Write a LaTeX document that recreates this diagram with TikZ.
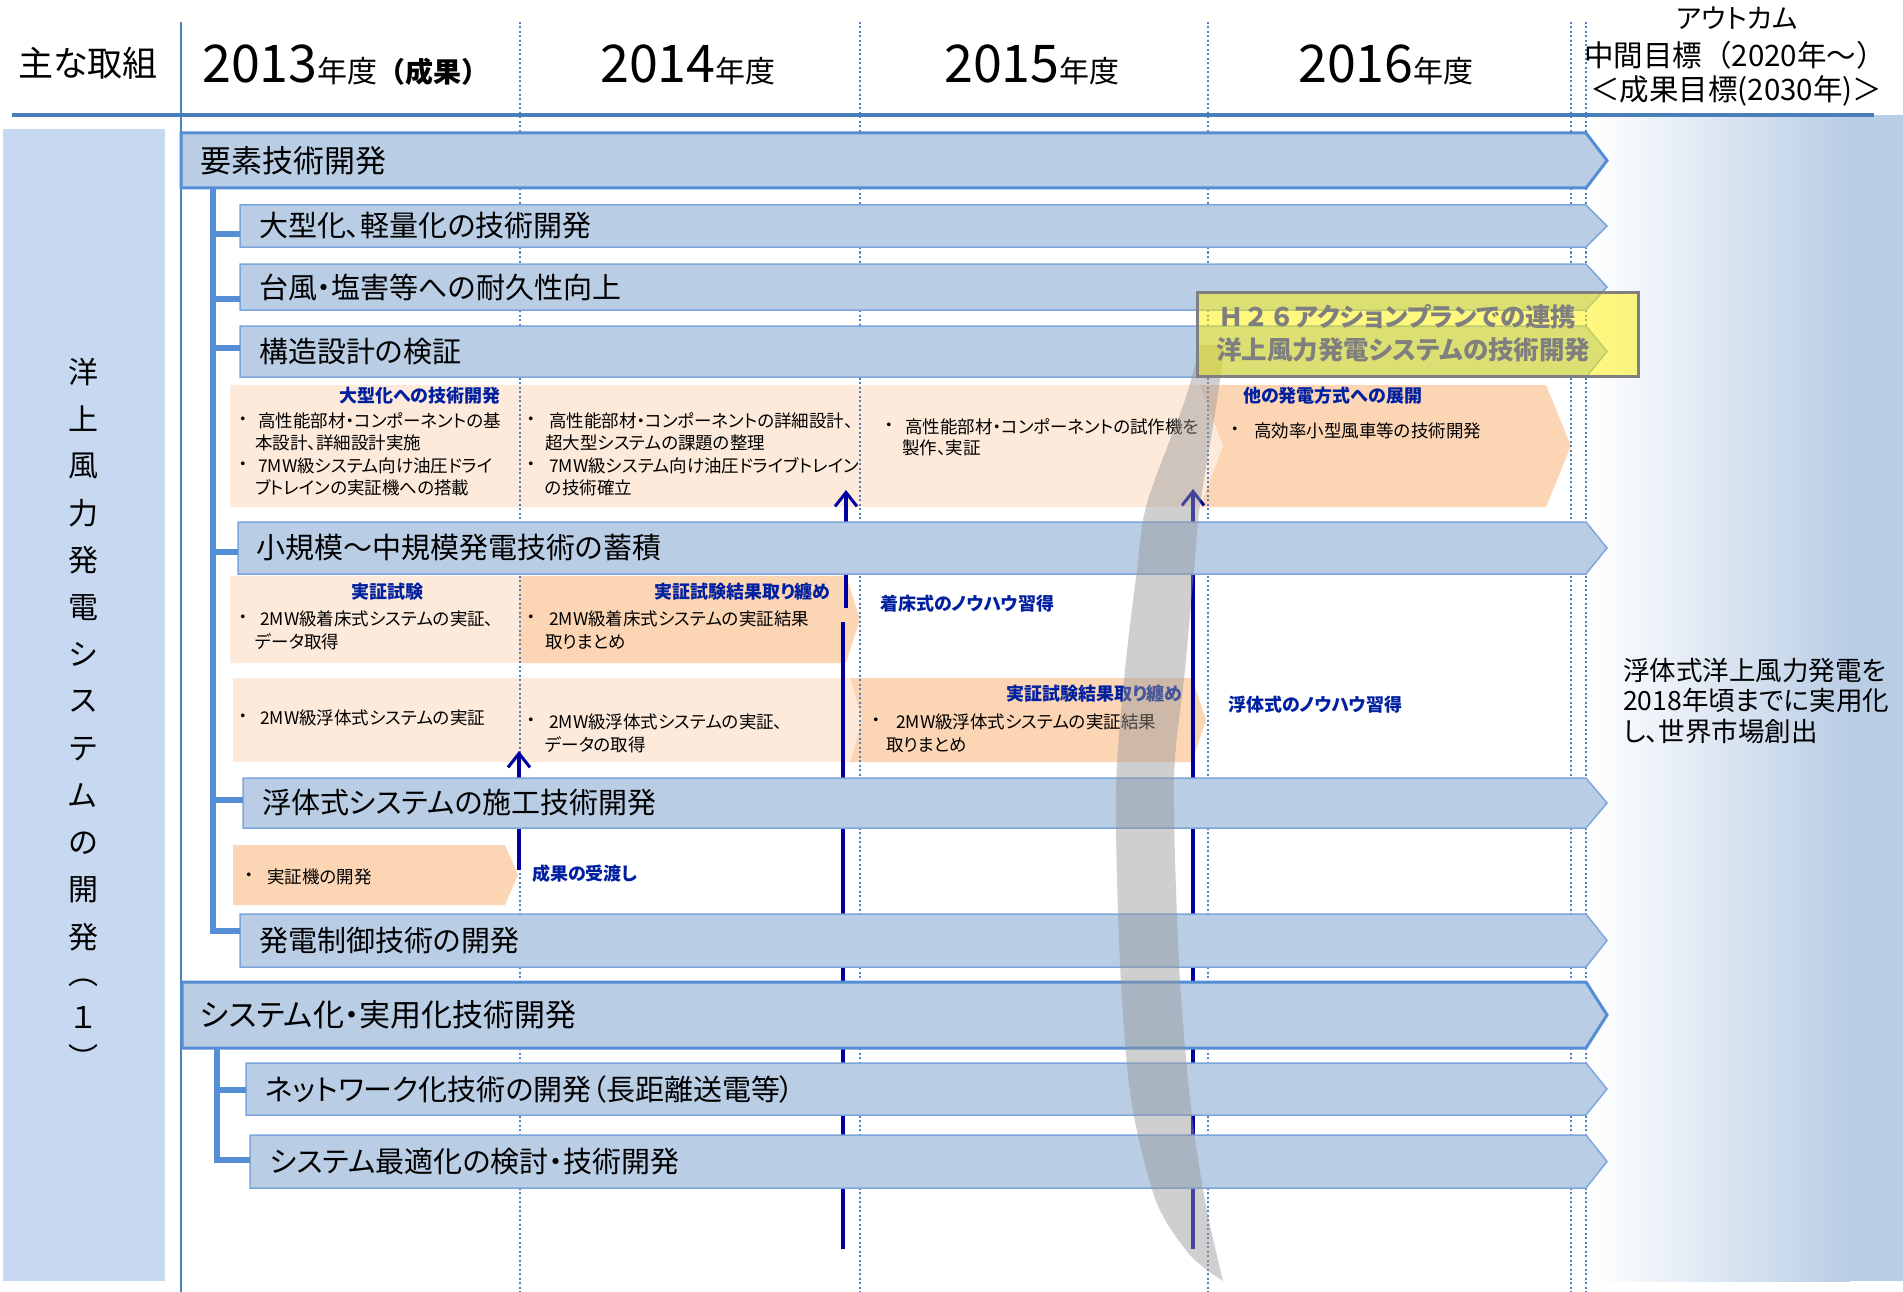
\documentclass[tikz,border=0pt]{standalone}
\usepackage{fontspec}
\setmainfont{Noto Sans CJK JP}[RawFeature=+palt]
\newfontfamily\plainjp{Noto Sans CJK JP}
\usetikzlibrary{arrows.meta}
\definecolor{barblue}{RGB}{185,205,229}
\definecolor{barline}{RGB}{126,166,222}
\definecolor{mainline}{RGB}{85,142,213}
\definecolor{colblue}{RGB}{198,217,241}
\definecolor{hdrline}{RGB}{74,126,187}
\definecolor{dotblue}{RGB}{79,129,189}
\definecolor{navyl}{RGB}{0,0,160}
\definecolor{lblblue}{RGB}{0,32,160}
\definecolor{orl}{RGB}{253,234,218}
\definecolor{ord}{RGB}{252,213,181}
\definecolor{bandgray}{RGB}{150,150,150}
\definecolor{ytxt}{RGB}{127,127,127}
\newcommand\mkbar[7]{%
  \filldraw[#6] (#2,#3) -- (1586,#3) -- (1607,{(#3+#4)/2}) -- (1586,#4) -- (#2,#4) -- cycle;
  \node[#6txt] (#1) at (#5,{(#3+#4)/2}) {#7};
}
\newcommand\bline[5]{%
  \node[sm, anchor=center] (#1b) at (#2,#4) {・};
  \node[sm] (#1) at (#3,#4) {#5};
}
\tikzset{
  sm/.style={font=\fontsize{17.5}{20}\selectfont, inner sep=0pt, anchor=west, text=black},
  lbl/.style={font=\bfseries\fontsize{18}{20}\selectfont, inner sep=0pt, text=lblblue},
  subbar/.style={fill=barblue, draw=barline, line width=1.5pt},
  mainbar/.style={fill=barblue, draw=mainline, line width=3pt},
  subbartxt/.style={font=\fontsize{29}{32}\selectfont, inner sep=0pt, anchor=west},
  mainbartxt/.style={font=\fontsize{31}{34}\selectfont, inner sep=0pt, anchor=west},
  dotl/.style={dotblue, line width=1.5pt, dash pattern=on 2pt off 2.5pt},
  tree/.style={mainline, line width=6pt},
  navy/.style={navyl, line width=4pt},
  navyarr/.style={navyl, line width=4pt, -{Straight Barb[length=14pt,width=22pt,line width=3pt]}},
  colt/.style={font=\fontsize{30}{30}\selectfont, inner sep=0pt},
  yt/.style={font=\bfseries\fontsize{25.5}{28}\selectfont, inner sep=0pt, anchor=west, text=ytxt},
  hdr/.style={inner sep=0pt, anchor=base west},
}
\begin{document}
\begin{tikzpicture}[x=1pt,y=-1pt]
\useasboundingbox (0,0) rectangle (1903,1292);
\fill[white] (0,0) rectangle (1903,1292);
% right gradient area and left column
\shade[left color=white, right color=barblue] (1590,115) rectangle (1850,1281);
\fill[barblue] (1850,115) rectangle (1903,1281);
\fill[colblue] (3,129) rectangle (165,1281);
% orange boxes
\fill[orl] (230,385) -- (1200,385) -- (1223,446) -- (1200,507) -- (230,507) -- cycle;
\fill[ord] (1200,385) -- (1546,385) -- (1571,446) -- (1546,507) -- (1200,507) -- (1223,446) -- cycle;
\fill[orl] (230,576) rectangle (519,663);
\fill[ord] (519,576) -- (846,576) -- (860,619) -- (846,663) -- (519,663) -- cycle;
\fill[orl] (233,678) -- (850,678) -- (862,720) -- (850,762) -- (233,762) -- cycle;
\fill[ord] (850,678) -- (1192,678) -- (1206,720) -- (1192,762) -- (850,762) -- (862,720) -- cycle;
\fill[ord] (233,845) -- (505,845) -- (518,875) -- (505,905) -- (233,905) -- cycle;
% grid lines
\foreach \x in {520,860,1208,1571,1586} \draw[dotl] (\x,22) -- (\x,1292);
\draw[dotblue, line width=2pt] (181,22) -- (181,1292);
\draw[hdrline, line width=3.5pt] (12,115) -- (1874,115);
% header
\node[font=\fontsize{35}{35}\selectfont, inner sep=0pt] (hk) at (88,63) {主な取組};
\node[hdr] (h13) at (202,83) {\fontsize{52}{52}\selectfont 2013\fontsize{30}{30}\selectfont 年度{\plainjp\bfseries\fontsize{28}{30}\selectfont （成果）}};
\node[hdr] (h14) at (600,83) {\fontsize{52}{52}\selectfont 2014\fontsize{30}{30}\selectfont 年度};
\node[hdr] (h15) at (944,83) {\fontsize{52}{52}\selectfont 2015\fontsize{30}{30}\selectfont 年度};
\node[hdr] (h16) at (1298,83) {\fontsize{52}{52}\selectfont 2016\fontsize{30}{30}\selectfont 年度};
\node[font=\fontsize{27}{27}\selectfont, inner sep=0pt] (oc) at (1737,18) {アウトカム};
\node[font=\plainjp\fontsize{29.5}{30}\selectfont, inner sep=0pt, anchor=west] (mt) at (1584,55) {中間目標（2020年～）};
\node[font=\plainjp\fontsize{29.5}{30}\selectfont, inner sep=0pt, anchor=west] (gt) at (1590,91) {＜成果目標(2030年)＞};
% small texts
\bline{ra}{243}{258}{421}{高性能部材・コンポーネントの基}
\node[sm] (rb) at (255,443) {本設計、詳細設計実施};
\bline{rc}{243}{258}{466}{7MW級システム向け油圧ドライ}
\node[sm] (rd) at (255,488) {ブトレインの実証機への搭載};
\bline{re}{531}{549}{421}{高性能部材・コンポーネントの詳細設計、}
\node[sm] (rf) at (545,443) {超大型システムの課題の整理};
\bline{rg}{531}{549}{466}{7MW級システム向け油圧ドライブトレイン}
\node[sm] (rh) at (545,488) {の技術確立};
\bline{ri}{889}{905}{427}{高性能部材・コンポーネントの試作機を}
\node[sm] (rj) at (902,448) {製作、実証};
\bline{rk}{1235}{1254}{431}{高効率小型風車等の技術開発}
\bline{sa}{243}{260}{619}{2MW級着床式システムの実証、}
\node[sm] (sb) at (255,642) {データ取得};
\bline{sc}{531}{549}{619}{2MW級着床式システムの実証結果}
\node[sm] (sd) at (545,642) {取りまとめ};
\bline{ta}{243}{260}{718}{2MW級浮体式システムの実証}
\bline{tb}{531}{549}{722}{2MW級浮体式システムの実証、}
\node[sm] (tc) at (545,745) {データの取得};
\bline{td}{876}{896}{722}{2MW級浮体式システムの実証結果}
\node[sm] (te) at (886,745) {取りまとめ};
\bline{ua}{249}{267}{877}{実証機の開発}
% blue labels
\node[lbl] (l1) at (420,396) {大型化への技術開発};
\node[lbl] (l2) at (387,592) {実証試験};
\node[lbl, anchor=east] (l3) at (831,592) {実証試験結果取り纏め};
\node[lbl, anchor=west] (l4) at (880,604) {着床式のノウハウ習得};
\node[lbl, anchor=east] (l5) at (1183,694) {実証試験結果取り纏め};
\node[lbl, anchor=west] (l6) at (1228,705) {浮体式のノウハウ習得};
\node[lbl, anchor=west] (l7) at (1243,396) {他の発電方式への展開};
\node[lbl, anchor=west] (l8) at (532,874) {成果の受渡し};
% navy lines
\coordinate (a1s) at (846,608); \coordinate (a1e) at (846,490);
\coordinate (n1s) at (843,1249); \coordinate (n1e) at (843,622);
\coordinate (a2s) at (1193,1249); \coordinate (a2e) at (1193,489);
\coordinate (a3s) at (519,870); \coordinate (a3e) at (519,751);
\draw[navyarr] (a1s) -- (a1e);
\draw[navy] (n1s) -- (n1e);
\draw[navyarr] (a2s) -- (a2e);
\draw[navyarr] (a3s) -- (a3e);
% bars
\mkbar{b1}{181}{133}{188}{200}{mainbar}{要素技術開発}
\mkbar{b2}{240}{205}{247}{259}{subbar}{大型化、軽量化の技術開発}
\mkbar{b3}{240}{264}{310}{259}{subbar}{台風・塩害等への耐久性向上}
\mkbar{b4}{240}{326}{377}{259}{subbar}{構造設計の検証}
\mkbar{b5}{238}{522}{574}{256}{subbar}{小規模～中規模発電技術の蓄積}
\mkbar{b6}{243}{778}{828}{262}{subbar}{浮体式システムの施工技術開発}
\mkbar{b7}{240}{914}{967}{259}{subbar}{発電制御技術の開発}
\mkbar{b8}{182}{982}{1048}{200}{mainbar}{システム化・実用化技術開発}
\mkbar{b9}{246}{1063}{1115}{265}{subbar}{ネットワーク化技術の開発（長距離送電等）}
\mkbar{b10}{250}{1135}{1188}{270}{subbar}{システム最適化の検討・技術開発}
% tree connectors
\coordinate (t1) at (213,189);
\coordinate (c2) at (240,234); \coordinate (c3) at (240,299); \coordinate (c4) at (240,348);
\coordinate (c5) at (238,552); \coordinate (c6) at (243,800); \coordinate (c7) at (240,931);
\draw[tree] (t1) |- (c7);
\foreach \k in {c2,c3,c4,c5,c6} \draw[tree] (t1 |- \k) -- (\k);
\coordinate (t2) at (217,1049);
\coordinate (c9) at (246,1090); \coordinate (c10) at (250,1160);
\draw[tree] (t2) |- (c10);
\draw[tree] (t2 |- c9) -- (c9);
% grey band
\fill[bandgray, fill opacity=0.45] plot[smooth] coordinates {(1200,345) (1185,400) (1147,503) (1137,570) (1125,670) (1116,790) (1120,963) (1131,1099) (1156,1201) (1190,1255) (1223,1281)}
  -- plot[smooth] coordinates {(1223,1281) (1205,1201) (1190,1099) (1179,963) (1174,780) (1185,670) (1194,570) (1200,505) (1214,420) (1225,345)} -- cycle;
% yellow box
\node[draw=gray, line width=2.5pt, fill=yellow, fill opacity=0.5, draw opacity=1, minimum width=441pt, minimum height=84pt, anchor=north west, inner sep=0pt] (yb) at (1196,291) {};
\node[yt] (y1) at (1218,317) {{\plainjp Ｈ２６}アクションプランでの連携};
\node[yt] (y2) at (1216,350) {洋上風力発電システムの技術開発};
% left column text
\foreach \ch [count=\i] in {洋,上,風,力,発,電,シ,ス,テ,ム,の,開,発} \node[colt] (lc\i) at (83,{372+47.1*(\i-1)}) {\ch};
\node[colt] (lp1) at (83,983) {︵};
\node[colt] (lp2) at (83,1017) {１};
\node[colt] (lp3) at (83,1057) {︶};
% right text
\node[font=\fontsize{26.5}{28}\selectfont, inner sep=0pt, anchor=west] (rt1) at (1623,670) {浮体式洋上風力発電を};
\node[font=\fontsize{26.5}{28}\selectfont, inner sep=0pt, anchor=west] (rt2) at (1623,700) {2018年頃までに実用化};
\node[font=\fontsize{26.5}{28}\selectfont, inner sep=0pt, anchor=west] (rt3) at (1623,731) {し、世界市場創出};
\end{tikzpicture}
\end{document}
